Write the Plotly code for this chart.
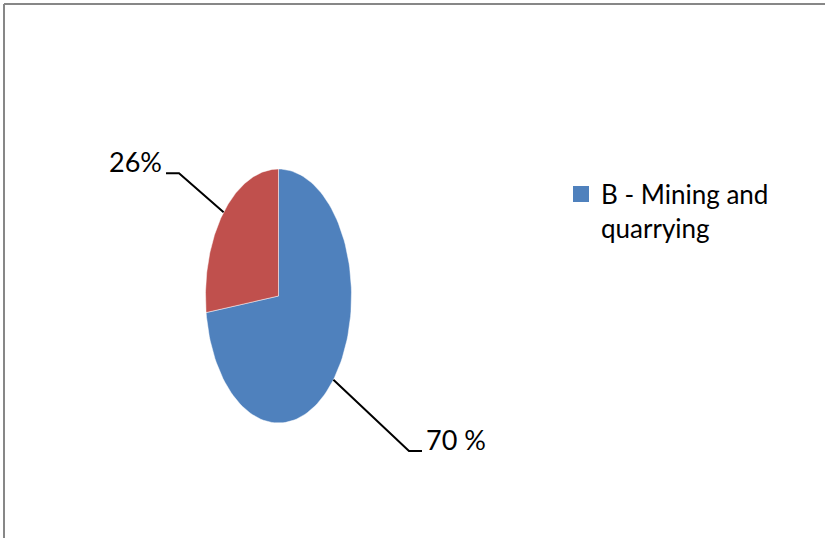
import numpy as np
import plotly.graph_objects as go

# slice data (Excel-style pie, first slice starts at 12 o'clock, clockwise)
categories = ["B - Mining and<br>quarrying", ""]
values = [70, 26]
labels = ["70 %", "26%"]
colors = ["#4F81BD", "#C0504D"]

# geometry of the stretched pie in pixel space
cx, cy, rx, ry = 278.5, 296, 73, 127
W, H = 825, 538
elbow = [(75.6, 71.3), (-44.6, -39.0)]
tail = 13

FONT = "Lato, Carlito, Calibri, sans-serif"


def ell(t):
    t = np.radians(t)
    return cx + rx * np.sin(t), cy - ry * np.cos(t)


fig = go.Figure()
total = sum(values)
start = 0.0
annotations = []
for i, v in enumerate(values):
    span = v / total * 360
    t = np.linspace(start, start + span, 120)
    px, py = ell(t)
    xs = np.concatenate([[cx], px, [cx]])
    ys = np.concatenate([[cy], py, [cy]])
    fig.add_trace(go.Scatter(
        x=xs, y=ys, mode="lines", fill="toself", fillcolor=colors[i],
        line=dict(color="rgba(255,255,255,0.6)", width=0.8),
        hoverinfo="skip", showlegend=False,
    ))
    # leader line
    mx, my = ell(start + span / 2)
    ex, ey = mx + elbow[i][0], my + elbow[i][1]
    sgn = 1 if elbow[i][0] > 0 else -1
    fig.add_trace(go.Scatter(
        x=[mx, ex, ex + sgn * tail], y=[my, ey, ey], mode="lines",
        line=dict(color="black", width=2), hoverinfo="skip", showlegend=False,
    ))
    annotations.append(dict(
        x=ex + sgn * (tail + 2), y=ey, xref="x", yref="y", text=labels[i],
        showarrow=False, xanchor="left" if sgn > 0 else "right", yanchor="bottom",
        yshift=-7, font=dict(family=FONT, size=27, color="black"),
    ))
    start += span

# legend entry (only the first category is labelled)
fig.add_trace(go.Scatter(
    x=[None], y=[None], mode="markers", name=categories[0],
    marker=dict(symbol="square", size=16, color=colors[0]),
))

fig.add_shape(type="line", x0=4, x1=W, y0=4, y1=4, xref="x", yref="y",
              line=dict(color="#878787", width=2))
fig.add_shape(type="line", x0=4, x1=4, y0=4, y1=H, xref="x", yref="y",
              line=dict(color="#878787", width=2))

fig.update_layout(
    width=W, height=H,
    margin=dict(l=0, r=0, t=0, b=0),
    paper_bgcolor="white", plot_bgcolor="white",
    xaxis=dict(range=[0, W], visible=False, fixedrange=True),
    yaxis=dict(range=[H, 0], visible=False, fixedrange=True),
    annotations=annotations,
    showlegend=True,
    legend=dict(x=0.68, y=0.683, xanchor="left", yanchor="top",
                font=dict(family=FONT, size=26, color="black"),
                valign="top", itemwidth=30, bgcolor="rgba(0,0,0,0)"),
)

fig.write_html("out.html", config={"displayModeBar": False},
               post_script="document.body.style.margin='0';")
